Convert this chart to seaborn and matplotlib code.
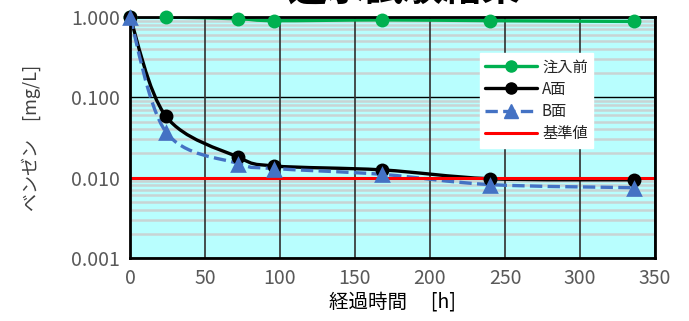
import numpy as np
import pandas as pd
import seaborn as sns
import matplotlib.pyplot as plt
from matplotlib.path import Path
from matplotlib.patches import PathPatch
from matplotlib.lines import Line2D
from matplotlib.ticker import FixedLocator, LogLocator, NullFormatter

# data
hours = [0, 24, 72, 96, 168, 240, 336]
before = [1.0, 1.0, 0.95, 0.90, 0.92, 0.90, 0.88]       # 注入前
face_a = [1.0, 0.058, 0.018, 0.014, 0.0125, 0.0097, 0.0094]  # A面
face_b = [1.0, 0.037, 0.015, 0.013, 0.011, 0.0082, 0.0075]   # B面
standard = 0.01                                           # 基準値
x_ticks = [0, 50, 100, 150, 200, 250, 300, 350]
y_ticks = [0.001, 0.01, 0.1, 1.0]
y_tick_labels = ["0.001", "0.010", "0.100", "1.000"]

sns.set_theme(style="white")
plt.rcParams['font.family'] = ['Noto Sans CJK JP', 'DejaVu Sans']

fig, ax = plt.subplots(figsize=(6.89, 3.21), dpi=100)
fig.subplots_adjust(left=130 / 689, right=655 / 689, top=1 - 17 / 321, bottom=1 - 258 / 321)
ax.set_facecolor("#b8fefe")
ax.set_yscale("log")


def smooth_path(xs, ys):
    # Excel style smoothed line: Catmull-Rom converted to cubic Bezier in (x, log y)
    lx = np.array(xs, float)
    ly = np.log10(np.array(ys, float))
    px = np.concatenate([[lx[0]], lx, [lx[-1]]])
    py = np.concatenate([[ly[0]], ly, [ly[-1]]])
    verts = [(lx[0], ly[0])]
    codes = [Path.MOVETO]
    for i in range(1, len(px) - 2):
        c1 = (px[i] + (px[i + 1] - px[i - 1]) / 6, py[i] + (py[i + 1] - py[i - 1]) / 6)
        c2 = (px[i + 1] - (px[i + 2] - px[i]) / 6, py[i + 1] - (py[i + 2] - py[i]) / 6)
        verts += [c1, c2, (px[i + 1], py[i + 1])]
        codes += [Path.CURVE4] * 3
    verts = [(vx, 10 ** vy) for vx, vy in verts]
    return Path(verts, codes)


series = [
    ("注入前", before, "#00b050", "-", "o", 10),
    ("A面", face_a, "black", "-", "o", 10),
    ("B面", face_b, "#4472c4", "--", "^", 12),
]

handles = []
for name, vals, col, ls, mk, ms in series:
    patch = PathPatch(smooth_path(hours, vals), facecolor="none", edgecolor=col,
                      lw=2.4, linestyle=ls, zorder=4)
    ax.add_patch(patch)
    df = pd.DataFrame({"h": hours, "v": vals})
    sns.scatterplot(data=df, x="h", y="v", ax=ax, color=col, marker=mk,
                    s=ms ** 2, edgecolor=col, linewidth=0, zorder=7, clip_on=False)
    handles.append(Line2D([], [], color=col, lw=2.4, linestyle=ls, marker=mk, markersize=ms - 2,
                          label=name))

ax.axhline(standard, color="#ff0000", lw=2.2, zorder=4.5)
handles.append(Line2D([], [], color="#ff0000", lw=2.2, label="基準値"))

ax.set_xlim(0, 350)
ax.set_ylim(0.001, 1.0)
ax.xaxis.set_major_locator(FixedLocator(x_ticks))
ax.yaxis.set_major_locator(FixedLocator(y_ticks))
ax.set_yticklabels(y_tick_labels)
ax.yaxis.set_minor_locator(LogLocator(base=10, subs=np.arange(2, 10)))
ax.yaxis.set_minor_formatter(NullFormatter())

ax.grid(True, which="major", axis="x", color="#303030", lw=1.2)
ax.grid(True, which="major", axis="y", color="black", lw=1.0)
ax.grid(True, which="minor", axis="y", color="#c8d4d4", lw=1.8)
ax.set_axisbelow(True)
# vertical grid above the minor horizontal lines
ax.xaxis.set_zorder(1.5)
ax.yaxis.set_zorder(0.5)

for sp in ax.spines.values():
    sp.set_color("black")
    sp.set_linewidth(2)
    sp.set_zorder(6)

ax.tick_params(axis="both", which="both", length=0, labelsize=14, colors="#595959", pad=7)
ax.set_xlabel("経過時間　 [h]", fontsize=14, color="black", labelpad=2)
ax.set_ylabel("ベンゼン　[mg/L]", fontsize=13, color="#404040", labelpad=22)

leg = ax.legend(handles=handles, loc="upper right", bbox_to_anchor=(0.882, 0.851),
                borderaxespad=0, frameon=True, fancybox=False, framealpha=1,
                fontsize=11, handlelength=3.4, handletextpad=0.3, labelspacing=0.35,
                borderpad=0.35)
leg.get_frame().set_edgecolor("white")
leg.get_frame().set_facecolor("white")
leg.set_zorder(8)

fig.text(404 / 689, 1 - 9 / 321, "通水試験結果", fontsize=28, fontweight="bold",
         ha="center", va="bottom", color="black")

fig.savefig("out.png", dpi=100)
